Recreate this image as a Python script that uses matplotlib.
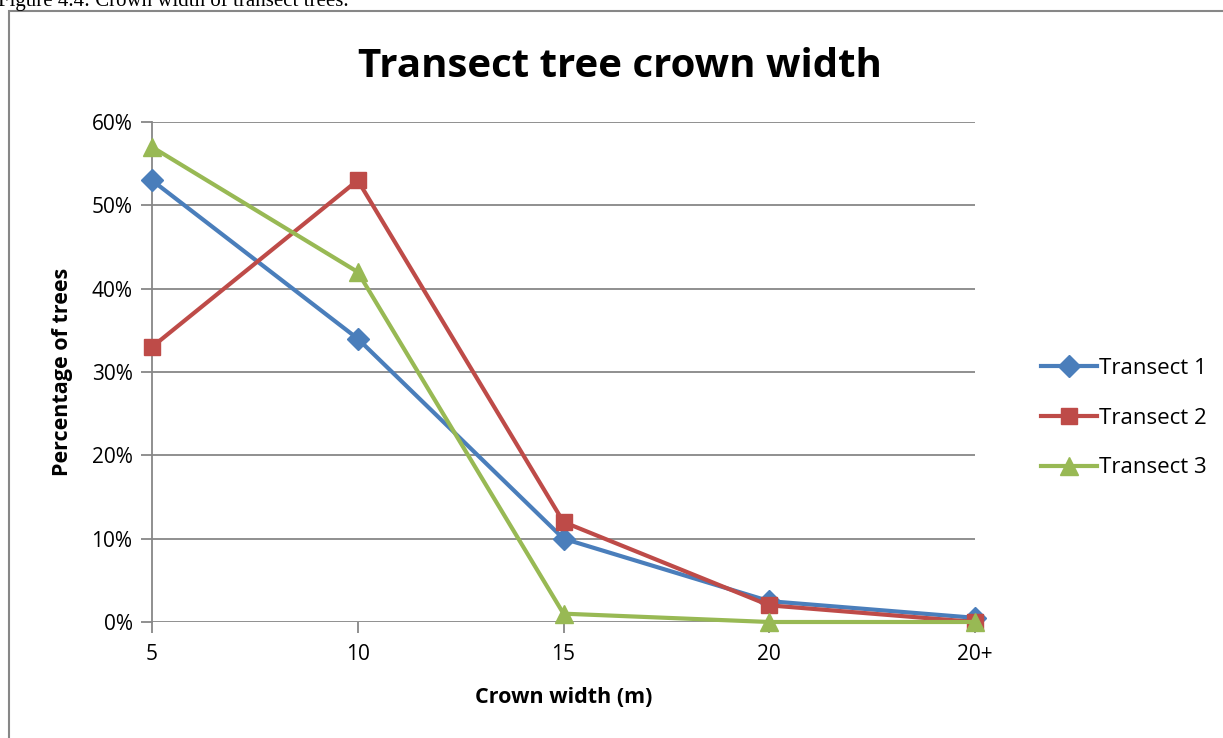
import matplotlib
matplotlib.use('Agg')
import matplotlib.pyplot as plt
from matplotlib.patches import Rectangle
from matplotlib.ticker import PercentFormatter

# crown width classes and share of trees per transect
categories = ['5', '10', '15', '20', '20+']
transect_1 = [0.53, 0.34, 0.10, 0.025, 0.005]
transect_2 = [0.33, 0.53, 0.12, 0.02, 0.0]
transect_3 = [0.57, 0.42, 0.01, 0.0, 0.0]

plt.rcParams['font.family'] = ['Open Sans', 'DejaVu Sans']

W, H = 1223, 738
fig = plt.figure(figsize=(W / 100, H / 100), dpi=100)

# page caption, cut off at the top edge
fig.text(-2 / W, 1 - 6 / H, 'Figure 4.4: Crown width of transect trees.',
         family='Liberation Serif', fontsize=15, ha='left', va='baseline')

# chart border
fig.patches.append(Rectangle((8.5 / W, -0.05), 1.2, 1 - 10.5 / H + 0.05,
                             transform=fig.transFigure, fill=False,
                             edgecolor='#878787', linewidth=1.5))

ax = fig.add_axes([152 / W, 116 / H, (975 - 152) / W, 500 / H])
x = range(len(categories))

series = [
    (transect_1, 'Transect 1', '#4A7EBB', 'D', 11),
    (transect_2, 'Transect 2', '#BE4B48', 's', 12),
    (transect_3, 'Transect 3', '#98B954', '^', 13),
]
for vals, name, col, mk, ms in series:
    ax.plot(x, vals, color=col, linewidth=3, marker=mk, markersize=ms,
            label=name, solid_joinstyle='round', clip_on=False, zorder=3)

ax.set_xlim(0, len(categories) - 1)
ax.set_ylim(0, 0.6)
ax.set_xticks(list(x))
ax.set_xticklabels(categories)
ax.set_yticks([i / 10 for i in range(7)])
ax.yaxis.set_major_formatter(PercentFormatter(1.0, decimals=0))
ax.grid(axis='y', color='#878787', linewidth=1.3)
ax.set_axisbelow(True)

for side in ['top', 'right', 'bottom']:
    ax.spines[side].set_visible(False)
ax.spines['left'].set_color('#878787')
ax.spines['left'].set_linewidth(1.3)
ax.tick_params(axis='both', colors='#878787', width=1.3, length=8,
               labelcolor='black', labelsize=15, pad=6)
ax.tick_params(axis='x', pad=8)

ax.set_xlabel('Crown width (m)', fontsize=15.5, fontweight='bold', labelpad=16)
ax.set_ylabel('Percentage of trees', fontsize=15.5, fontweight='bold', labelpad=13)

fig.text(620 / W, 1 - 77 / H, 'Transect tree crown width', fontsize=29,
         fontweight='bold', ha='center', va='baseline')

fig.legend(loc='center left', bbox_to_anchor=(1030 / W, 1 - 418 / H),
           frameon=False, fontsize=16, handlelength=2.5, handletextpad=0.1,
           labelspacing=1.3, borderpad=0)

fig.savefig('out.png', dpi=100)
